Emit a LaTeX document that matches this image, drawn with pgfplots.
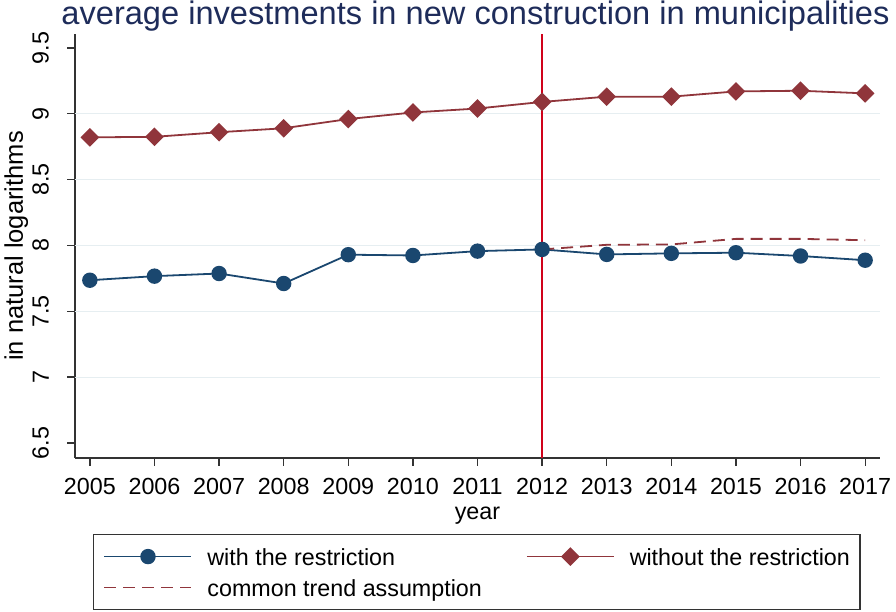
\documentclass[border=0pt]{standalone}
\usepackage{fontspec}
\setmainfont{Liberation Sans}
\usepackage{pgfplots}
\pgfplotsset{compat=1.18}
\definecolor{snavy}{HTML}{1A476F}
\definecolor{smaroon}{HTML}{90353B}
\definecolor{vred}{HTML}{D0021B}
\definecolor{gridc}{HTML}{E6EEF1}
\definecolor{titlec}{HTML}{1E2C5A}
\definecolor{axc}{HTML}{333333}
\newcommand{\tfont}{\fontsize{23.3bp}{28bp}\selectfont}
\begin{document}
\begin{tikzpicture}[x=1bp,y=1bp]
\useasboundingbox (0,0) rectangle (896,612);
\begin{axis}[
  at={(75bp,154bp)}, anchor=south west,
  scale only axis, width=805bp, height=424bp,
  xmin=2004.77, xmax=2017.23, ymin=6.386, ymax=9.606,
  axis lines=left, axis line style={-, draw=axc, line width=1.3bp},
  xtick={2005,2006,2007,2008,2009,2010,2011,2012,2013,2014,2015,2016,2017},
  xticklabels={2005,2006,2007,2008,2009,2010,2011,2012,2013,2014,2015,2016,2017},
  ytick={6.5,7,7.5,8,8.5,9,9.5},
  yticklabels={6.5,7,7.5,8,8.5,9,9.5},
  tick align=outside, major tick length=8bp,
  tick style={draw=axc, line width=1.3bp},
  extra y ticks={7,7.5,8,8.5,9}, extra y tick labels={},
  extra y tick style={grid=major, major tick length=0pt},
  grid style={gridc, line width=1.2bp},
  every tick label/.append style={font=\tfont},
  /pgf/number format/assume math mode=true,
  xticklabel style={font=\tfont, anchor=north, inner xsep=0pt, inner ysep=12bp},
  yticklabel style={font=\tfont, rotate=90, anchor=south, inner xsep=0pt, inner ysep=18bp},
  xlabel={year}, ylabel={in natural logarithms},
  xlabel style={at={(axis description cs:0.5,-0.1462)}, anchor=base, font=\tfont},
  ylabel style={at={(axis description cs:-0.0646,0.5)}, anchor=base, font=\fontsize{25.5bp}{30bp}\selectfont},
  legend columns=2,
  legend cell align=left,
  legend style={at={(axis description cs:0.02236,-0.1792)}, anchor=north west,
    draw=axc, line width=1.2bp, inner xsep=10bp, inner ysep=11bp,
    font=\tfont,
    nodes={inner sep=0pt, text height=20bp, text depth=2bp},
    row sep=9bp,
    /tikz/every odd column/.append style={column sep=15bp},
    /tikz/every even column/.append style={column sep=44bp}},
  legend image code/.code={
    \draw[mark repeat=2,mark phase=2,#1] plot coordinates {(0bp,0bp)(43.5bp,0bp)(87bp,0bp)};
  },
]
\addplot[vred, line width=1.5bp, forget plot] coordinates {(2012,6.386)(2012,9.606)};
\addplot[snavy, line width=1.8bp, mark=*, mark size=6.8bp, mark options={solid}] coordinates {
(2005,7.736)(2006,7.767)(2007,7.787)(2008,7.711)(2009,7.930)(2010,7.924)(2011,7.957)
(2012,7.970)(2013,7.932)(2014,7.940)(2015,7.945)(2016,7.920)(2017,7.888)};
\addplot[smaroon, line width=1.8bp, mark=square*, mark size=5.7bp, mark options={solid, rotate=45}] coordinates {
(2005,8.821)(2006,8.825)(2007,8.860)(2008,8.890)(2009,8.960)(2010,9.010)(2011,9.040)
(2012,9.090)(2013,9.130)(2014,9.130)(2015,9.170)(2016,9.175)(2017,9.155)};
\addplot[smaroon, line width=1.8bp, dash pattern=on 12bp off 7bp] coordinates {
(2012,7.970)(2013,8.005)(2014,8.008)(2015,8.050)(2016,8.050)(2017,8.040)};
\legend{with the restriction, without the restriction, common trend assumption}
\end{axis}
\node[anchor=base, inner sep=0pt, font=\fontsize{32.6bp}{38bp}\selectfont, text=titlec] at (475.5,587.5) {average investments in new construction in municipalities};
\end{tikzpicture}
\end{document}
